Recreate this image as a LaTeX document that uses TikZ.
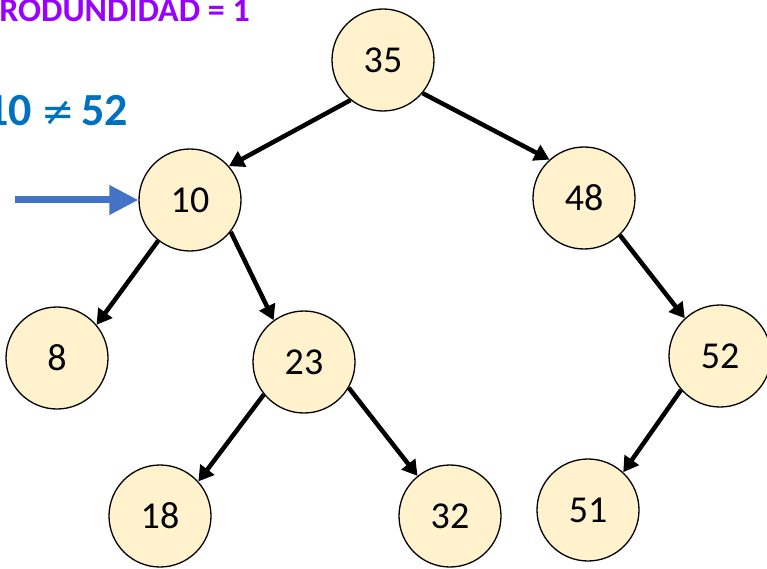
\documentclass[tikz,border=0pt]{standalone}
\usepackage{fontspec}
\setmainfont{Carlito}
\newfontfamily\symbolfont{DejaVu Sans}
\usetikzlibrary{arrows.meta}
\definecolor{nodefill}{HTML}{FFF2CC}
\definecolor{depthpurple}{HTML}{9900FF}
\definecolor{cmpblue}{HTML}{0070C0}
\definecolor{ptrblue}{HTML}{4472C4}
\tikzset{
  treenode/.style={circle, draw=black, line width=1.3pt, fill=nodefill,
    minimum size=102pt, inner sep=0pt, font=\fontsize{38}{38}\selectfont},
  edge/.style={line width=4.5pt, -{Triangle[length=15pt,width=17pt]}},
  pointer/.style={ptrblue, line width=7pt, -{Triangle[length=29pt,width=28pt]}}
}
\begin{document}
\begin{tikzpicture}[x=1pt,y=-1pt]
  \useasboundingbox (0,0) rectangle (767,569);
  \clip (0,0) rectangle (767,569);

  % tree nodes
  \node[treenode] (n35) at (383,60) {35};
  \node[treenode] (n10) at (190,200) {10};
  \node[treenode] (n48) at (584,198) {48};
  \node[treenode] (n8)  at (57,358)  {8};
  \node[treenode] (n23) at (304,362) {23};
  \node[treenode] (n52) at (720,356) {52};
  \node[treenode] (n18) at (160,516) {18};
  \node[treenode] (n32) at (450,516) {32};
  \node[treenode] (n51) at (588,510) {51};

  % edges
  \draw[edge] (n35.231) -- (n10.41);
  \draw[edge] (n35.320) -- (n48.132);
  \draw[edge] (n10.232) -- (n8.40);
  \draw[edge] (n10.322) -- (n23.126);
  \draw[edge] (n48.314) -- (n52.133);
  \draw[edge] (n23.219) -- (n18.42);
  \draw[edge] (n23.330) -- (n32.129);
  \draw[edge] (n52.221) -- (n51.47);

  % labels and pointer
  \node[anchor=base east, inner sep=0pt, text=depthpurple,
        font=\bfseries\fontsize{34}{34}\selectfont] (depth) at (250,22) {RODUNDIDAD = 1};
  \node[anchor=base east, inner sep=0pt, text=cmpblue,
        font=\bfseries\fontsize{46}{46}\selectfont] (cmp) at (128,126)
        {10\kern10pt{\symbolfont\mdseries\fontsize{40}{40}\selectfont ≠}\kern6pt 52};
  \coordinate (ptrstart) at (15,200);
  \draw[pointer] (ptrstart) -- (n10.west);
\end{tikzpicture}
\end{document}
